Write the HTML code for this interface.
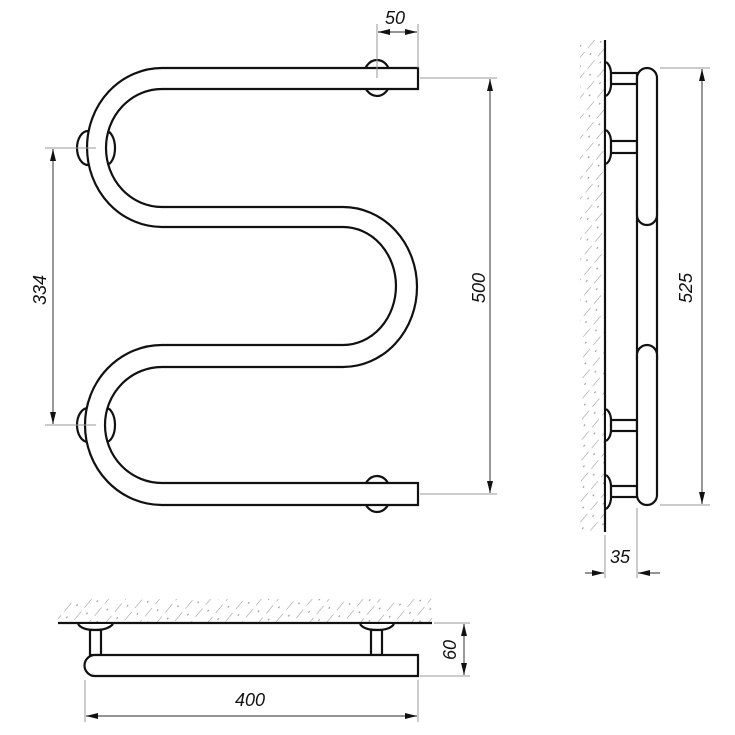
<!DOCTYPE html>
<html><head><meta charset="utf-8"><style>
html,body{margin:0;padding:0;background:#fff;}
svg{display:block;}
text{font-family:"Liberation Sans",sans-serif;font-style:italic;font-size:18px;fill:#111;}
</style></head><body>
<svg width="735" height="735" viewBox="0 0 735 735" xmlns="http://www.w3.org/2000/svg">
<defs>
<pattern id="h1" width="13" height="16" patternUnits="userSpaceOnUse" patternTransform="rotate(40)">
<line x1="0" y1="0" x2="0" y2="11" stroke="#999" stroke-width="1.1"/>
<line x1="6" y1="13" x2="6" y2="15" stroke="#999" stroke-width="1.1"/>
</pattern>
<marker id="ar" markerWidth="12" markerHeight="6" refX="12" refY="3" orient="auto" markerUnits="userSpaceOnUse">
<path d="M0,0 L12,3 L0,6 z" fill="#111"/>
</marker>
</defs>

<!-- FRONT VIEW -->
<g fill="#fff" stroke="#111" stroke-width="2.2">
<ellipse cx="377" cy="78" rx="14" ry="18"/>
<ellipse cx="377" cy="494" rx="14" ry="18"/>
<ellipse cx="88" cy="148" rx="11" ry="17"/>
<ellipse cx="106" cy="148" rx="9" ry="17"/>
<ellipse cx="88" cy="425" rx="11" ry="17"/>
<ellipse cx="106" cy="425" rx="9" ry="17"/>
<path d="M418,68 L162,68 A75,79.5 0 0 0 162,227 L343,227 A53,59 0 0 1 343,345 L162,345 A77,80 0 0 0 162,505 L418,505 L418,483 L162,483 A57,58 0 0 1 162,367 L343,367 A74,80 0 0 0 343,207 L162,207 A56,59 0 0 1 162,89 L418,89 Z"/>
</g>
<g stroke="#999" stroke-width="1" fill="none">
<line x1="377" y1="24" x2="377" y2="78"/>
<line x1="418" y1="24" x2="418" y2="68"/>
<line x1="420" y1="78" x2="497" y2="78"/>
<line x1="420" y1="494" x2="497" y2="494"/>
<line x1="45" y1="148" x2="96" y2="148"/>
<line x1="45" y1="425" x2="96" y2="425"/>
</g>
<g stroke="#555" stroke-width="1.2" fill="none">
<line x1="490" y1="290" x2="490" y2="79" marker-end="url(#ar)"/>
<line x1="490" y1="290" x2="490" y2="493" marker-end="url(#ar)"/>
<line x1="53" y1="290" x2="53" y2="149" marker-end="url(#ar)"/>
<line x1="53" y1="290" x2="53" y2="424" marker-end="url(#ar)"/>
<line x1="397" y1="32" x2="378" y2="32" marker-end="url(#ar)"/>
<line x1="397" y1="32" x2="417" y2="32" marker-end="url(#ar)"/>
</g>
<text x="395" y="24" text-anchor="middle">50</text>
<text transform="translate(485,288) rotate(-90)" text-anchor="middle">500</text>
<text transform="translate(46,290) rotate(-90)" text-anchor="middle">334</text>

<!-- SIDE VIEW -->
<rect x="580" y="40" width="24" height="492" fill="url(#h1)"/>
<line x1="605" y1="40" x2="605" y2="532" stroke="#111" stroke-width="2.2"/>
<g fill="#fff" stroke="#111" stroke-width="2.2">
<path d="M606,62 Q612,66 611,79 Q612,92 606,96"/>
<path d="M606,130 Q612,134 611,147 Q612,160 606,164"/>
<path d="M606,409 Q612,413 611,425 Q612,437 606,441"/>
<path d="M606,475 Q612,479 611,492 Q612,505 606,509"/>
<rect x="611" y="73" width="26" height="11"/>
<rect x="611" y="141" width="26" height="12"/>
<rect x="611" y="420" width="26" height="11"/>
<rect x="611" y="486" width="26" height="11"/>
<line x1="637" y1="200" x2="637" y2="360"/>
<line x1="657" y1="200" x2="657" y2="360"/>
<rect x="637" y="68" width="20" height="157" rx="10"/>
<rect x="637" y="345" width="20" height="160" rx="10"/>
</g>
<g stroke="#999" stroke-width="1" fill="none">
<line x1="660" y1="68" x2="710" y2="68"/>
<line x1="660" y1="505" x2="710" y2="505"/>
<line x1="605" y1="535" x2="605" y2="578"/>
<line x1="637" y1="508" x2="637" y2="578"/>
</g>
<g stroke="#555" stroke-width="1.2" fill="none">
<line x1="702" y1="290" x2="702" y2="69" marker-end="url(#ar)"/>
<line x1="702" y1="290" x2="702" y2="504" marker-end="url(#ar)"/>
<line x1="585" y1="573" x2="604" y2="573" marker-end="url(#ar)"/>
<line x1="660" y1="573" x2="638" y2="573" marker-end="url(#ar)"/>
</g>
<text transform="translate(692,288) rotate(-90)" text-anchor="middle">525</text>
<text x="620" y="563" text-anchor="middle">35</text>

<!-- BOTTOM VIEW -->
<rect x="58" y="599" width="374" height="23" fill="url(#h1)"/>
<line x1="58" y1="623" x2="432" y2="623" stroke="#111" stroke-width="2.2"/>
<g fill="#fff" stroke="#111" stroke-width="2.2">
<path d="M78,624 Q82,630 95,630 Q108,630 113,624"/>
<path d="M360,624 Q364,630 377,630 Q390,630 394,624"/>
<rect x="90" y="630" width="11" height="25"/>
<rect x="371" y="630" width="11" height="25"/>
<path d="M418,655 L95,655 A10.5,10.5 0 0 0 95,676 L418,676 Z"/>
</g>
<g stroke="#999" stroke-width="1" fill="none">
<line x1="85" y1="680" x2="85" y2="722"/>
<line x1="418" y1="680" x2="418" y2="722"/>
<line x1="434" y1="623" x2="470" y2="623"/>
<line x1="420" y1="676" x2="470" y2="676"/>
</g>
<g stroke="#555" stroke-width="1.2" fill="none">
<line x1="250" y1="716" x2="86" y2="716" marker-end="url(#ar)"/>
<line x1="250" y1="716" x2="417" y2="716" marker-end="url(#ar)"/>
<line x1="464" y1="650" x2="464" y2="624" marker-end="url(#ar)"/>
<line x1="464" y1="650" x2="464" y2="675" marker-end="url(#ar)"/>
</g>
<text x="250" y="706" text-anchor="middle">400</text>
<text transform="translate(456,650) rotate(-90)" text-anchor="middle">60</text>
</svg>
</body></html>
